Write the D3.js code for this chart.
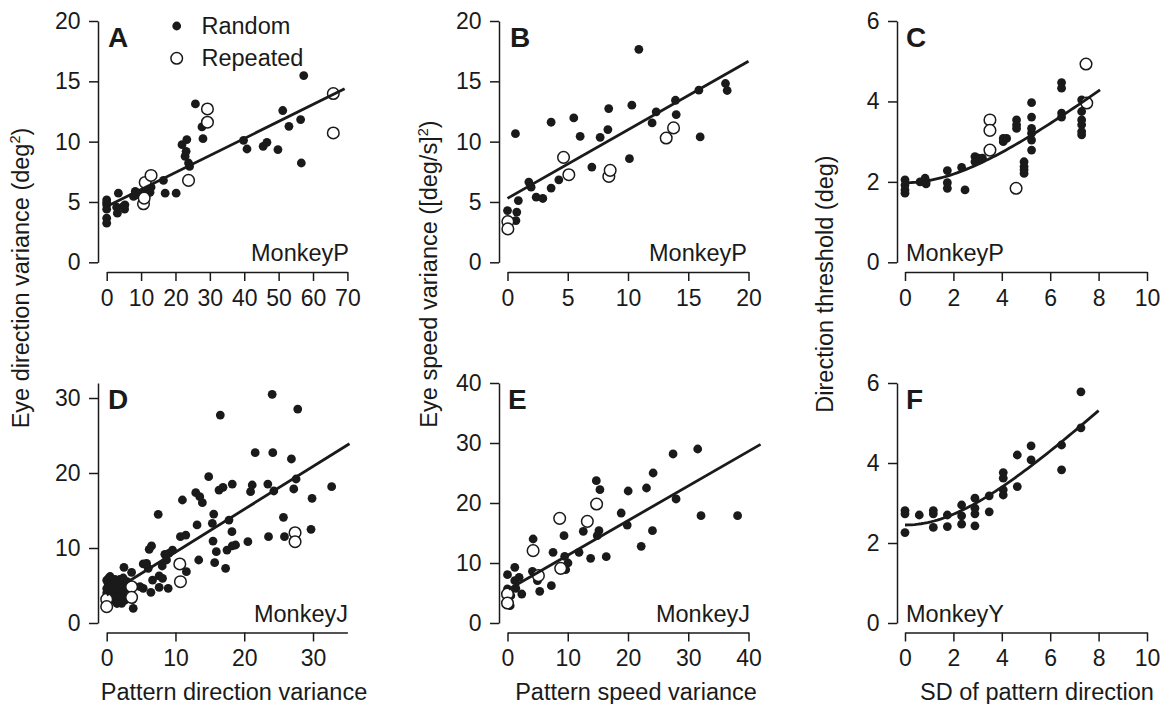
<!DOCTYPE html>
<html>
<head>
<meta charset="utf-8">
<script src="https://cdn.jsdelivr.net/npm/d3@7"></script>
<style>
  body { margin: 0; background: #fff; }
  svg { display: block; }
  text { font-family: "Liberation Sans", Arial, Helvetica, sans-serif; fill: #1a1a1a; }
</style>
</head>
<body>
<svg id="fig" width="1162" height="704"></svg>
<script>
// ---- Panel A: eye direction variance vs pattern direction variance (Monkey P)
const aRandom = [[0,5.18],[0,4.76],[0,4.4],[0,3.66],[0,3.24],[0,4.95],[2.9,4.57],[3.4,5.73],[3.1,4.07],[4.9,4.63],[5.2,4.4],[5.3,4.76],[7.8,5.46],[8.3,5.87],[8.7,5.6],[10.7,5.73],[12.1,6.0],[12.6,5.8],[12.9,6.23],[16.5,6.79],[17,5.73],[20.2,5.73],[21.9,9.75],[23.3,10.17],[23.1,9.2],[22.8,8.78],[23.8,8.23],[24.1,7.95],[25.8,13.13],[27.7,11.22],[28,10.25],[39.8,10.11],[40.8,9.39],[45.5,9.61],[46.6,9.94],[49.8,9.34],[51.2,12.58],[53,11.27],[56.4,11.83],[56.6,8.23],[57.3,15.48]];
const aRepeated = [[10.7,4.85],[10.9,5.32],[11.2,6.62],[12.9,7.2],[23.8,6.79],[29.3,12.71],[29.3,11.61],[65.9,13.99],[65.9,10.72]];
const aFit = [4.62, 0.141];        // intercept, slope
const aFitRange = [1.0, 69.2];

// ---- Panel B: eye speed variance vs pattern speed variance (Monkey P)
const bRandom = [[0,4.29],[0.7,3.46],[0.77,4.16],[0.66,10.66],[0.9,5.12],[1.77,6.65],[1.96,6.23],[2.38,5.4],[2.93,5.29],[3.62,6.15],[3.62,11.61],[4.26,6.84],[5.5,11.97],[6.03,10.44],[7,7.89],[7.69,10.36],[8.33,11.0],[8.4,12.74],[10.12,8.59],[10.32,13.02],[10.9,17.65],[12.0,11.55],[12.34,12.47],[13.94,13.43],[14.0,12.24],[15.88,14.27],[15.99,10.39],[18.09,14.82],[18.23,14.24]];
const bRepeated = [[0.03,3.38],[0.03,2.77],[4.65,8.7],[5.09,7.26],[8.41,7.12],[8.52,7.62],[13.17,10.3],[13.78,11.14]];
const bFit = [5.3, 0.568];
const bFitRange = [0, 20];

// ---- Panel C: direction threshold vs SD of pattern direction (Monkey P)
const cRandom = [[0,2.05],[0,1.92],[0,1.8],[0,1.72],[0.62,2.0],[0.83,2.09],[0.87,1.95],[0.87,2.0],[1.75,2.28],[1.75,1.98],[1.75,1.84],[2.34,2.36],[2.48,1.8],[2.89,2.63],[2.89,2.5],[3.03,2.59],[3.2,2.59],[3.1,2.55],[4.06,3.08],[4.06,3.0],[4.2,3.08],[4.61,3.54],[4.61,3.42],[4.61,3.33],[4.92,2.5],[4.92,2.38],[4.92,2.3],[4.92,2.21],[5.23,3.97],[5.23,3.61],[5.23,3.33],[5.23,3.21],[5.23,3.04],[5.23,2.79],[6.47,4.47],[6.47,4.33],[6.47,3.71],[6.47,3.61],[7.3,4.04],[7.3,3.75],[7.3,3.54],[7.3,3.42],[7.3,3.25],[7.3,3.17]];
const cRepeated = [[3.51,3.54],[3.51,3.28],[3.51,2.79],[4.59,1.84],[7.48,4.93],[7.51,3.96]];
const cFit = [1.98, 0.4715];       // baseline threshold, noise gain
const cFitRange = [0, 8.06];

// ---- Panel D: eye direction variance vs pattern direction variance (Monkey J)
const dRandom = [[24.06,30.49],[27.78,28.53],[16.52,27.73],[21.59,22.71],[24.15,22.71],[26.86,21.87],[14.83,19.51],[32.71,18.18],[27.54,19.2],[27.2,17.87],[18.26,18.53],[21.16,18.4],[20.92,17.51],[23.43,18.53],[24.3,17.6],[16.33,17.73],[16.91,18.09],[12.95,17.38],[13.53,16.84],[13.91,16.04],[11.01,16.4],[29.86,16.62],[15.56,14.53],[7.49,14.49],[15.36,13.29],[13.14,13.07],[17.78,13.73],[25.7,14.09],[10.72,11.51],[11.5,11.73],[18.21,12.18],[29.71,12.49],[25.85,11.51],[23.53,11.51],[20.53,10.84],[15.46,10.93],[18.26,10.27],[17.49,9.73],[15.94,9.51],[18.74,10.4],[6.52,10.27],[6.18,9.82],[9.57,9.73],[9.03,9.29],[8.45,9.16],[13.38,8.4],[15.7,8.04],[17.29,7.29],[11.59,6.84],[5.31,7.87],[5.8,7.96],[6.04,7.29],[2.51,7.42],[3.62,6.76],[8.07,7.6],[8.7,8.4],[6.67,5.73],[7.63,6.27],[8.12,5.96],[7.63,4.76],[8.94,4.62],[6.43,4.09],[5.31,4.62],[4.83,4.84],[3.86,1.96],[3.77,3.16],[2.42,3.73],[2.17,2.62],[0,5.7],[0.2,5.3],[0.3,6.0],[0.5,4.9],[0.7,5.6],[1.0,4.4],[1.2,5.8],[1.4,3.9],[1.6,5.1],[1.9,4.4],[0,4.0],[0.2,3.4],[0.7,3.5],[1.2,3.0],[1.7,3.3],[2.2,4.0],[0.5,6.2],[2.4,5.3],[2.9,4.6],[0,4.6],[1.0,5.1],[1.9,5.8],[2.6,3.0],[1.5,2.6],[0.4,3.0],[2.0,3.6],[3.0,5.5],[2.4,6.0]];
const dRepeated = [[0,3.16],[0,2.18],[3.62,4.84],[3.62,3.42],[10.63,7.87],[10.72,5.51],[27.39,12.04],[27.39,10.84]];
const dFit = [3.74, 0.571];
const dFitRange = [0, 35.3];

// ---- Panel E: eye speed variance vs pattern speed variance (Monkey J)
const eRandom = [[27.48,28.17],[31.57,29.0],[24.17,25.0],[14.74,23.72],[15.34,22.22],[20.03,22.0],[23.07,22.5],[27.98,20.67],[18.87,18.33],[19.87,16.33],[32.12,17.89],[38.19,17.89],[24.06,15.39],[22.19,12.78],[12.58,15.28],[15.18,15.39],[14.9,14.56],[9.38,14.56],[4.25,14.0],[7.56,11.78],[9.49,11.11],[11.87,11.78],[13.8,10.78],[16.39,11.06],[10.04,10.0],[9.66,8.89],[4.14,8.61],[1.21,9.28],[0,8.06],[1.93,7.61],[1.21,7.06],[4.97,7.06],[5.35,5.28],[7.28,6.22],[2.37,4.83],[0.55,4.56],[1.38,5.78],[0,5.67],[0.44,2.89]];
const eRepeated = [[0,4.83],[0,3.33],[4.25,12.06],[5.13,7.89],[8.66,17.44],[8.83,9.11],[13.25,16.94],[14.79,19.83]];
const eFit = [5.5, 0.578];
const eFitRange = [0.2, 42];

// ---- Panel F: direction threshold vs SD of pattern direction (Monkey Y)
const fRandom = [[0,2.81],[0,2.73],[0,2.26],[0.59,2.7],[1.17,2.81],[1.17,2.73],[1.17,2.39],[1.75,2.7],[1.75,2.41],[2.34,2.95],[2.34,2.68],[2.34,2.47],[2.89,3.12],[2.89,2.87],[2.89,2.73],[2.89,2.43],[3.48,3.18],[3.48,2.78],[4.06,3.76],[4.06,3.62],[4.06,3.33],[4.06,3.2],[4.64,4.2],[4.64,3.41],[5.21,4.43],[5.21,4.08],[6.47,4.45],[6.47,3.83],[7.27,5.78],[7.27,4.88]];
const fRepeated = [];
const fFit = [2.45, 0.589];
const fFitRange = [0, 8.0];

// ---- Tick labels
const ticksA = { x: [0,10,20,30,40,50,60,70], y: [0,5,10,15,20] };
const ticksB = { x: [0,5,10,15,20], y: [0,5,10,15,20] };
const ticksC = { x: [0,2,4,6,8,10], y: [0,2,4,6] };
const ticksD = { x: [0,10,20,30], y: [0,10,20,30] };
const ticksE = { x: [0,10,20,30,40], y: [0,10,20,30,40] };
const ticksF = { x: [0,2,4,6,8,10], y: [0,2,4,6] };

const INK = "#1a1a1a";
const FONT = 23;
const svg = d3.select("#fig");
const fmt = d3.format("~g");

// Layout: columns and rows
const cols = [
  { yAxisX: 98,  xRange: [106.7, 347.4] },
  { yAxisX: 499, xRange: [507.5, 748.5] },
  { yAxisX: 897, xRange: [905, 1147] }
];
const rows = [
  { xAxisY: 272,   yRange: [262.3, 21] },
  { xAxisY: 632.5, yRange: [623, 383] }
];

const linearModel = p => x => p[0] + p[1] * x;
const thresholdModel = p => x => Math.sqrt(p[0] * p[0] + (p[1] * x) * (p[1] * x));

const panels = [
  { letter: "A", col: 0, row: 0, xDomain: [0,70], yDomain: [0,20], ticks: ticksA, random: aRandom, repeated: aRepeated,
    model: linearModel(aFit), fitRange: aFitRange, monkey: "MonkeyP", monkeyAnchor: "end", monkeyX: 349, letterX: 108 },
  { letter: "B", col: 1, row: 0, xDomain: [0,20], yDomain: [0,20], ticks: ticksB, random: bRandom, repeated: bRepeated,
    model: linearModel(bFit), fitRange: bFitRange, monkey: "MonkeyP", monkeyAnchor: "end", monkeyX: 747, letterX: 510 },
  { letter: "C", col: 2, row: 0, xDomain: [0,10], yDomain: [0,6], ticks: ticksC, random: cRandom, repeated: cRepeated,
    model: thresholdModel(cFit), fitRange: cFitRange, curve: true, monkey: "MonkeyP", monkeyAnchor: "start", monkeyX: 906, letterX: 906 },
  { letter: "D", col: 0, row: 1, xDomain: [0,35], yDomain: [0,32], ticks: ticksD, random: dRandom, repeated: dRepeated,
    model: linearModel(dFit), fitRange: dFitRange, monkey: "MonkeyJ", monkeyAnchor: "end", monkeyX: 348, letterX: 108 },
  { letter: "E", col: 1, row: 1, xDomain: [0,40], yDomain: [0,40], ticks: ticksE, random: eRandom, repeated: eRepeated,
    model: linearModel(eFit), fitRange: eFitRange, monkey: "MonkeyJ", monkeyAnchor: "end", monkeyX: 750, letterX: 508 },
  { letter: "F", col: 2, row: 1, xDomain: [0,10], yDomain: [0,6], ticks: ticksF, random: fRandom, repeated: fRepeated,
    model: thresholdModel(fFit), fitRange: fFitRange, curve: true, monkey: "MonkeyY", monkeyAnchor: "start", monkeyX: 906, letterX: 906 }
];

function styleAxis(g) {
  g.attr("font-family", null).attr("font-size", null);
  g.selectAll("path.domain").attr("stroke", INK).attr("stroke-width", 1.5);
  g.selectAll(".tick line").attr("stroke", INK).attr("stroke-width", 1.5);
  g.selectAll(".tick text").attr("font-size", FONT).style("fill", INK);
}

panels.forEach(p => {
  const c = cols[p.col], r = rows[p.row];
  const x = d3.scaleLinear().domain(p.xDomain).range(c.xRange);
  const y = d3.scaleLinear().domain(p.yDomain).range(r.yRange);
  const g = svg.append("g");

  g.append("g")
    .attr("transform", `translate(0,${r.xAxisY})`)
    .call(d3.axisBottom(x).tickValues(p.ticks.x).tickFormat(fmt).tickSize(9).tickSizeOuter(0).tickPadding(8.5))
    .call(styleAxis);

  g.append("g")
    .attr("transform", `translate(${c.yAxisX},0)`)
    .call(d3.axisLeft(y).tickValues(p.ticks.y).tickFormat(fmt).tickSize(9).tickSizeOuter(0).tickPadding(8.5))
    .call(styleAxis);

  // filled markers: random sequences
  g.append("g").selectAll("circle").data(p.random).join("circle")
    .attr("cx", d => x(d[0])).attr("cy", d => y(d[1]))
    .attr("r", 4.4).attr("fill", INK);

  // open markers: repeated sequences
  g.append("g").selectAll("circle").data(p.repeated).join("circle")
    .attr("cx", d => x(d[0])).attr("cy", d => y(d[1]))
    .attr("r", 5.8).attr("fill", "#fff").attr("stroke", INK).attr("stroke-width", 1.5);

  // fitted relation
  const xs = p.curve
    ? d3.range(0, 61).map(i => p.fitRange[0] + (p.fitRange[1] - p.fitRange[0]) * i / 60)
    : p.fitRange;
  g.append("path")
    .datum(xs.map(v => [v, p.model(v)]))
    .attr("fill", "none").attr("stroke", INK).attr("stroke-width", 2.8)
    .attr("d", d3.line().x(d => x(d[0])).y(d => y(d[1])));

  // panel letter
  g.append("text")
    .attr("x", p.letterX).attr("y", r.yRange[1] + 25.5)
    .attr("font-size", 28).attr("font-weight", "bold")
    .text(p.letter);

  // animal label
  g.append("text")
    .attr("x", p.monkeyX).attr("y", r.yRange[0] - 1.3)
    .attr("text-anchor", p.monkeyAnchor)
    .attr("font-size", FONT + 0.5)
    .text(p.monkey);
});

// Legend (panel A)
const legend = svg.append("g").attr("font-size", FONT + 0.5);
legend.append("circle").attr("cx", 176.7).attr("cy", 26).attr("r", 4.4).attr("fill", INK);
legend.append("text").attr("x", 201.5).attr("y", 34).text("Random");
legend.append("circle").attr("cx", 176.7).attr("cy", 58.3).attr("r", 5.8)
  .attr("fill", "#fff").attr("stroke", INK).attr("stroke-width", 1.5);
legend.append("text").attr("x", 201.5).attr("y", 66).text("Repeated");

// Axis titles
const titleSize = FONT + 0.5;
const xTitles = [
  { x: 234, text: "Pattern direction variance" },
  { x: 636, text: "Pattern speed variance" },
  { x: 1037, text: "SD of pattern direction" }
];
xTitles.forEach(t => svg.append("text")
  .attr("x", t.x).attr("y", 699.5).attr("text-anchor", "middle")
  .attr("font-size", titleSize).text(t.text));

function yTitle(xBase, yCenter, parts) {
  const t = svg.append("text")
    .attr("transform", `translate(${xBase},${yCenter}) rotate(-90)`)
    .attr("text-anchor", "middle").attr("font-size", titleSize);
  parts.forEach(([s, sup]) => {
    const ts = t.append("tspan").text(s);
    if (sup) ts.attr("font-size", titleSize * 0.62).attr("dy", -9);
    else if (t.selectAll("tspan").size() > 1) ts.attr("dy", 9);
  });
}
yTitle(28.5, 278, [["Eye direction variance (deg"], ["2", true], [")"]]);
yTitle(437, 274, [["Eye speed variance ([deg/s]"], ["2", true], [")"]]);
yTitle(833, 284, [["Direction threshold (deg)"]]);
</script>
</body>
</html>
